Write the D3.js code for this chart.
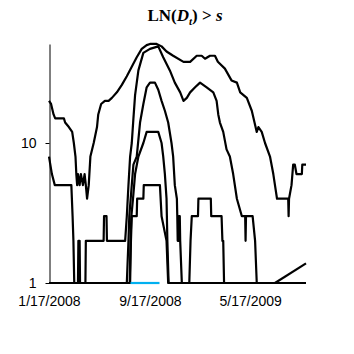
<!DOCTYPE html>
<html><head><meta charset="utf-8">
<script src="https://cdn.jsdelivr.net/npm/d3@7"></script>
<style>body{margin:0;background:#fff}svg{display:block}</style>
</head><body><svg id="c" width="354" height="354"></svg>
<script>
const tickDates = ["2008-01-17","2008-09-17","2009-05-17"];
const tickLabels = ["1/17/2008","9/17/2008","5/17/2009"];
const yTicks = [1, 10];

const aDates = ["2008-01-17","2008-01-22","2008-01-28","2008-02-01","2008-02-22","2008-02-25","2008-03-05","2008-03-13","2008-03-17","2008-03-21","2008-03-23","2008-03-25","2008-03-27","2008-03-31","2008-04-03","2008-04-08","2008-04-12","2008-04-15","2008-04-18","2008-04-22","2008-04-26","2008-05-04","2008-05-12","2008-05-15","2008-05-22","2008-05-31","2008-06-09","2008-06-17","2008-06-29","2008-07-11","2008-07-23","2008-08-04","2008-08-16","2008-08-28","2008-09-09","2008-09-17","2008-10-03","2008-10-15","2008-10-27","2008-11-12","2008-12-07","2008-12-23","2009-01-08","2009-01-20","2009-01-28","2009-02-09","2009-02-21","2009-02-28","2009-03-17","2009-04-02","2009-04-15","2009-04-23","2009-05-09","2009-05-21","2009-06-02","2009-06-06","2009-06-14","2009-06-22","2009-07-04","2009-07-12","2009-07-16","2009-07-21","2009-08-17","2009-08-18","2009-08-19","2009-08-25","2009-08-29","2009-09-02","2009-09-06","2009-09-19","2009-09-20","2009-09-29"];
const aValues = [20,19,16,15,15,14,13,12,10,8,6,5,6,5,6,5,6,5,4,5,8,10,13,16,19,20,20,21,23,26,30,35,41,47,50,51,51,49,45,42,38,38,42,42,40,42,42,38,34,28,27,23,21,17,12,13,12,10,8,6,5,4,4,3,4,5,7,7,6,6,7,7];

const bDates = ["2008-01-17","2008-01-24","2008-01-31","2008-03-11","2008-03-14","2008-03-16","2008-03-18","2008-03-27","2008-03-28","2008-03-31","2008-04-01","2008-04-14","2008-04-15","2008-05-28","2008-05-29","2008-06-04","2008-06-05","2008-07-19","2008-07-23","2008-07-27","2008-07-31","2008-08-04","2008-08-08","2008-08-12","2008-08-20","2008-09-01","2008-09-17","2008-10-07","2008-10-19","2008-11-04","2008-11-16","2008-11-29","2008-12-07","2008-12-15","2008-12-23","2009-01-04","2009-01-16","2009-02-01","2009-02-17","2009-02-25","2009-03-01","2009-03-05","2009-03-13","2009-03-21","2009-03-29","2009-04-06","2009-04-15","2009-04-27","2009-05-05","2009-05-06","2009-05-07","2009-05-23","2009-05-29","2009-06-02","2009-09-29"];
const bValues = [8,6,5,5,3,2,1,1,2,2,1,1,2,2,3,3,2,2,3,5,8,10,15,22,33,44,47,49,41,33,27,23,20,21,23,25,27,25,23,20,16,14,12,9,8,6,4,3,3,2,3,3,2,1,1];

const cDates = ["2008-01-17","2008-07-23","2008-07-27","2008-07-29","2008-08-04","2008-08-08","2008-08-16","2008-08-24","2008-09-01","2008-09-09","2008-09-17","2008-09-29","2008-10-07","2008-10-15","2008-10-23","2008-10-31","2008-11-08","2008-11-12","2008-11-16","2008-11-21","2008-11-22","2008-11-23","2008-11-24","2008-11-25","2008-11-26","2008-11-27","2008-11-28","2008-11-29","2008-12-03","2009-09-29"];
const cValues = [1,1,2,3,5,7,8,14,19,25,27,27,24,20,17,14,10,8,5,4,3,2,3,2,3,2,3,2,1,1];

const dDates = ["2008-01-17","2008-07-30","2008-08-01","2008-08-03","2008-08-07","2008-08-12","2008-08-20","2008-09-01","2008-09-09","2008-10-07","2008-10-15","2008-10-19","2008-10-23","2008-10-27","2008-10-29","2008-11-01","2008-12-21","2008-12-24","2008-12-27","2009-01-11","2009-01-12","2009-02-11","2009-02-12","2009-03-09","2009-03-11","2009-03-13","2009-03-15","2009-09-29"];
const dValues = [1,1,2,3,4,6,8,10,12,12,10,8,6,4,2,1,1,2,3,3,4,4,3,3,2,2,1,1];

const eDates = ["2008-01-17","2008-07-31","2008-08-02","2008-08-04","2008-08-16","2008-08-17","2008-09-01","2008-09-02","2008-10-11","2008-10-15","2008-10-27","2008-10-31","2009-09-29"];
const eValues = [1,1,2,3,3,4,4,5,5,3,2,1,1];

const cyanDates = ["2008-08-01","2008-10-10"];
const cyanValues = [1,1];

const diagDates = ["2009-07-16","2009-09-29"];
const diagValues = [1,1.38];

const parse = d3.timeParse("%Y-%m-%d");
const svg = d3.select("#c");
const x = d3.scaleTime().domain([parse("2008-01-17"), parse("2009-09-29")]).range([49, 306]);
const y = d3.scaleLog().domain([1, Math.pow(10, 239/140)]).range([283, 44]);

const line = d3.line().x(d => x(d[0])).y(d => y(d[1]));
function pts(ds, vs){ return ds.map((d,i)=>[parse(d), vs[i]]); }

// title
const t = svg.append("text").attr("x",185).attr("y",21).attr("text-anchor","middle")
  .attr("font-family","'Liberation Serif', 'Times New Roman', serif").attr("font-size",17).attr("font-weight","bold");
t.append("tspan").text("LN(");
t.append("tspan").attr("font-style","italic").text("D");
t.append("tspan").attr("font-style","italic").attr("font-size",11).attr("dy",4).text("t");
t.append("tspan").attr("dy",-4).text(")");
t.append("tspan").text(" > ");
t.append("tspan").attr("font-style","italic").text("s");
const tw = t.node().getBBox().width;
if (tw > 0 && Math.abs(tw - 76) > 3) {
  t.attr("font-size", 17 * 76 / tw);
  t.selectAll("tspan").filter(function(){ return this.getAttribute("font-size"); })
    .attr("font-size", 11 * 76 / tw);
}

// y axis
const yAxis = d3.axisLeft(y).tickValues(yTicks).tickFormat(d3.format("d")).tickSize(4).tickSizeOuter(0).tickPadding(9);
const gy = svg.append("g").attr("transform","translate(49.5,0)").call(yAxis);
gy.selectAll("text").attr("font-family","'Liberation Sans', Arial, sans-serif").attr("font-size",14).attr("fill","#000");
gy.selectAll("line,path").attr("stroke","#000");

// x axis labels
const xAxis = d3.axisBottom(x).tickValues(tickDates.map(parse)).tickFormat((d,i)=>tickLabels[i]).tickSize(0).tickPadding(13);
const gx = svg.append("g").attr("transform","translate(0,283)").call(xAxis);
gx.select(".domain").remove();
gx.selectAll("text").attr("font-family","'Liberation Sans', Arial, sans-serif").attr("font-size",14).attr("fill","#000");

const series = [
  [aDates,aValues],[bDates,bValues],[cDates,cValues],[dDates,dValues],[eDates,eValues],[diagDates,diagValues]
];
series.forEach(s => {
  svg.append("path").attr("d", line(pts(s[0],s[1]))).attr("fill","none")
    .attr("stroke","#000").attr("stroke-width",2.2).attr("stroke-linejoin","round");
});
svg.append("path").attr("d", line(pts(cyanDates,cyanValues))).attr("fill","none")
  .attr("stroke","#00b0f0").attr("stroke-width",2.2);
</script></body></html>
